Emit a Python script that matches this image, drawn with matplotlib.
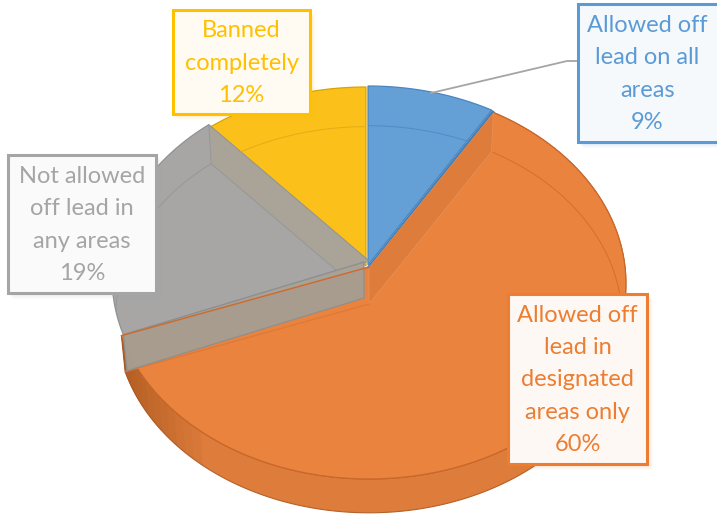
# Perspective 3D-style pie with callout labels
import numpy as np
import matplotlib
matplotlib.use("Agg")
import matplotlib.pyplot as plt
from matplotlib.patches import Polygon, Rectangle

# Data
categories = ["Allowed off\nlead on all\nareas", "Allowed off\nlead in\ndesignated\nareas only",
              "Not allowed\noff lead in\nany areas", "Banned\ncompletely"]
values = [9, 60, 19, 12]

# Colours
face_cols = ["#649FD6", "#EA833E", "#A7A6A5", "#FBC01A"]
edge_cols = ["#4A86C0", "#C9682A", "#8F9296", "#D9A400"]
box_cols = ["#5B9BD5", "#ED7D31", "#A5A5A5", "#FFC000"]

# Layout in pixels (y down)
W, H = 717, 514
cx, cy = 367, 266
a, c, d = 194.1, 0.0844, 256.0
depth = 37
shrink = 0.985
offsets = [(1.0, -1.0), (2.0, 1.0), (2.0, -5.0), (-1.0, 0.0)]
# small angular nudges (start, end) per slice, degrees
nudges = [(0, -1.2), (-1.0, 1.5), (0, 1.5), (1.5, 0)]
boxes = [(578, 4, 145, 138), (508, 294, 139, 170), (8, 155, 148, 138), (173, 10, 137, 104)]


def project(deg):
    # angle clockwise from the top of the pie, onto the tilted disc
    th = np.radians(deg)
    u, v = np.sin(th), np.cos(th)
    w = 1 + c * v
    return np.column_stack((d * u / w, -a * v / w))


def lower(pts):
    return pts * shrink + np.array([0, depth])


fig = plt.figure(figsize=(W / 100, H / 100), dpi=100)
ax = fig.add_axes([0, 0, 1, 1])
ax.set_xlim(0, W)
ax.set_ylim(H, 0)
ax.axis("off")

center = np.array([cx, cy], dtype=float)
edges = np.cumsum([0] + values) / sum(values) * 360
starts = [edges[i] + nudges[i][0] for i in range(4)]
ends = [edges[i + 1] + nudges[i][1] for i in range(4)]

# outer rim of the orange slice, sits under everything
arc = project(np.linspace(starts[1], ends[1], 200)) + center + offsets[1]
rim_low = lower(project(np.linspace(starts[1], ends[1], 200))) + center + offsets[1]
ax.add_patch(Polygon(np.vstack((arc, rim_low[::-1])), fc="#DD7C3B", ec="#B4612A", lw=0.8, zorder=1))
# the rim darkens toward its left end
for k in range(12):
    ang = np.linspace(ends[1] - 32 + k * 2.6, ends[1], 40)
    band = np.vstack((project(ang) + center + offsets[1],
                      (lower(project(ang)) + center + offsets[1])[::-1]))
    ax.add_patch(Polygon(band, fc="#A4541E", ec="none", alpha=0.08, zorder=1.1))

# slice tops, yellow before grey, grey before blue
order = [1, 3, 2, 0]
tops = {}
for z, i in enumerate(order):
    off = np.array(offsets[i])
    pts = project(np.linspace(starts[i], ends[i], 120))
    poly = np.vstack(([[0, 0]], pts)) + center + off
    tops[i] = Polygon(poly, fc=face_cols[i], ec=edge_cols[i], lw=0.9, zorder=2 + z * 0.1)
    ax.add_patch(tops[i])

# far rim seen through the slices
for i, col in zip([0, 1, 2, 3], ["#4F8CC6", "#D2702E", "#979797", "#E3AC18"]):
    off = np.array(offsets[i])
    low = lower(project(np.linspace(starts[i], ends[i], 120))) + center + off
    ln, = ax.plot(low[:, 0], low[:, 1], color=col, lw=0.7, zorder=2.6)
    ln.set_clip_path(tops[i])

# orange wall behind the blue slice
off = np.array(offsets[1])
p = project(np.array([starts[1]]))
wall = np.vstack(([[0, 0]], p, lower(p), lower(np.zeros((1, 2))))) + center + off
w1 = Polygon(wall, fc="#DE7C3C", ec="#E88D50", lw=0.7, zorder=2.7)
ax.add_patch(w1)
w1.set_clip_path(tops[1])

# grey wall behind the yellow slice
off = np.array(offsets[2])
p = project(np.array([ends[2]]))
wall = np.vstack(([[0, 0]], p, lower(p), lower(np.zeros((1, 2))))) + center + off
w2 = Polygon(wall, fc="#AAA498", ec="#979797", lw=0.7, zorder=2.7)
ax.add_patch(w2)
w2.set_clip_path(tops[2])

# grey wall lying over the orange slice, stops short of the centre
p = project(np.array([starts[2]]))
inner = np.array([[-5.0, 1.0]])
wall = np.vstack((inner, p, lower(p), lower(inner) - [0, 1])) + center + off
ax.add_patch(Polygon(wall, fc="#A69E92", ec="#8B8F92", lw=0.9, alpha=0.96, zorder=2.8))

# orange edges showing through, and the blue side sliver
off1 = np.array(offsets[1])
p = project(np.array([ends[1]])) + center + off1
ax.plot([cx + off1[0], p[0, 0]], [cy + off1[1], p[0, 1]], color="#CF6A2C", lw=1.0, zorder=2.9)
p_low = lower(project(np.array([ends[1]]))) + center + off1
ax.plot([cx + off1[0], p_low[0, 0]], [cy + depth + off1[1], p_low[0, 1]], color="#DD7A38", lw=0.9, zorder=2.75)
off0 = np.array(offsets[0])
p = project(np.array([ends[0]])) + center + off0
ax.plot([cx + off0[0] + 1, p[0, 0] + 1], [cy + off0[1] + 2, p[0, 1] + 2], color="#3F7FBC", lw=2.2, zorder=2.25)

# leader line for the blue label
ax.plot([431, 567, 579], [93, 61, 61], color="#A5A5A5", lw=1.3, zorder=4, solid_joinstyle="miter")

# callout boxes
for i, (x, y, w, h) in enumerate(boxes):
    for k in range(1, 6):
        ax.add_patch(Rectangle((x + k, y + k), w + 1, h + 1, fc=box_cols[i], ec="none", alpha=0.035, zorder=5))
    ax.add_patch(Rectangle((x, y), w, h, fc="white", ec=box_cols[i], lw=2.2, zorder=6))
    ax.add_patch(Rectangle((x, y), w, h, fc=box_cols[i], ec="none", alpha=0.05, zorder=6.1))
    label = "%s\n%d%%" % (categories[i], values[i])
    ax.text(x + (139 if i == 0 else w) / 2, y + h / 2 + 1, label, ha="center", va="center", ma="center",
            family="Lato", fontsize=17, color=box_cols[i], linespacing=1.67, zorder=7)

fig.savefig("out.png", dpi=100)
